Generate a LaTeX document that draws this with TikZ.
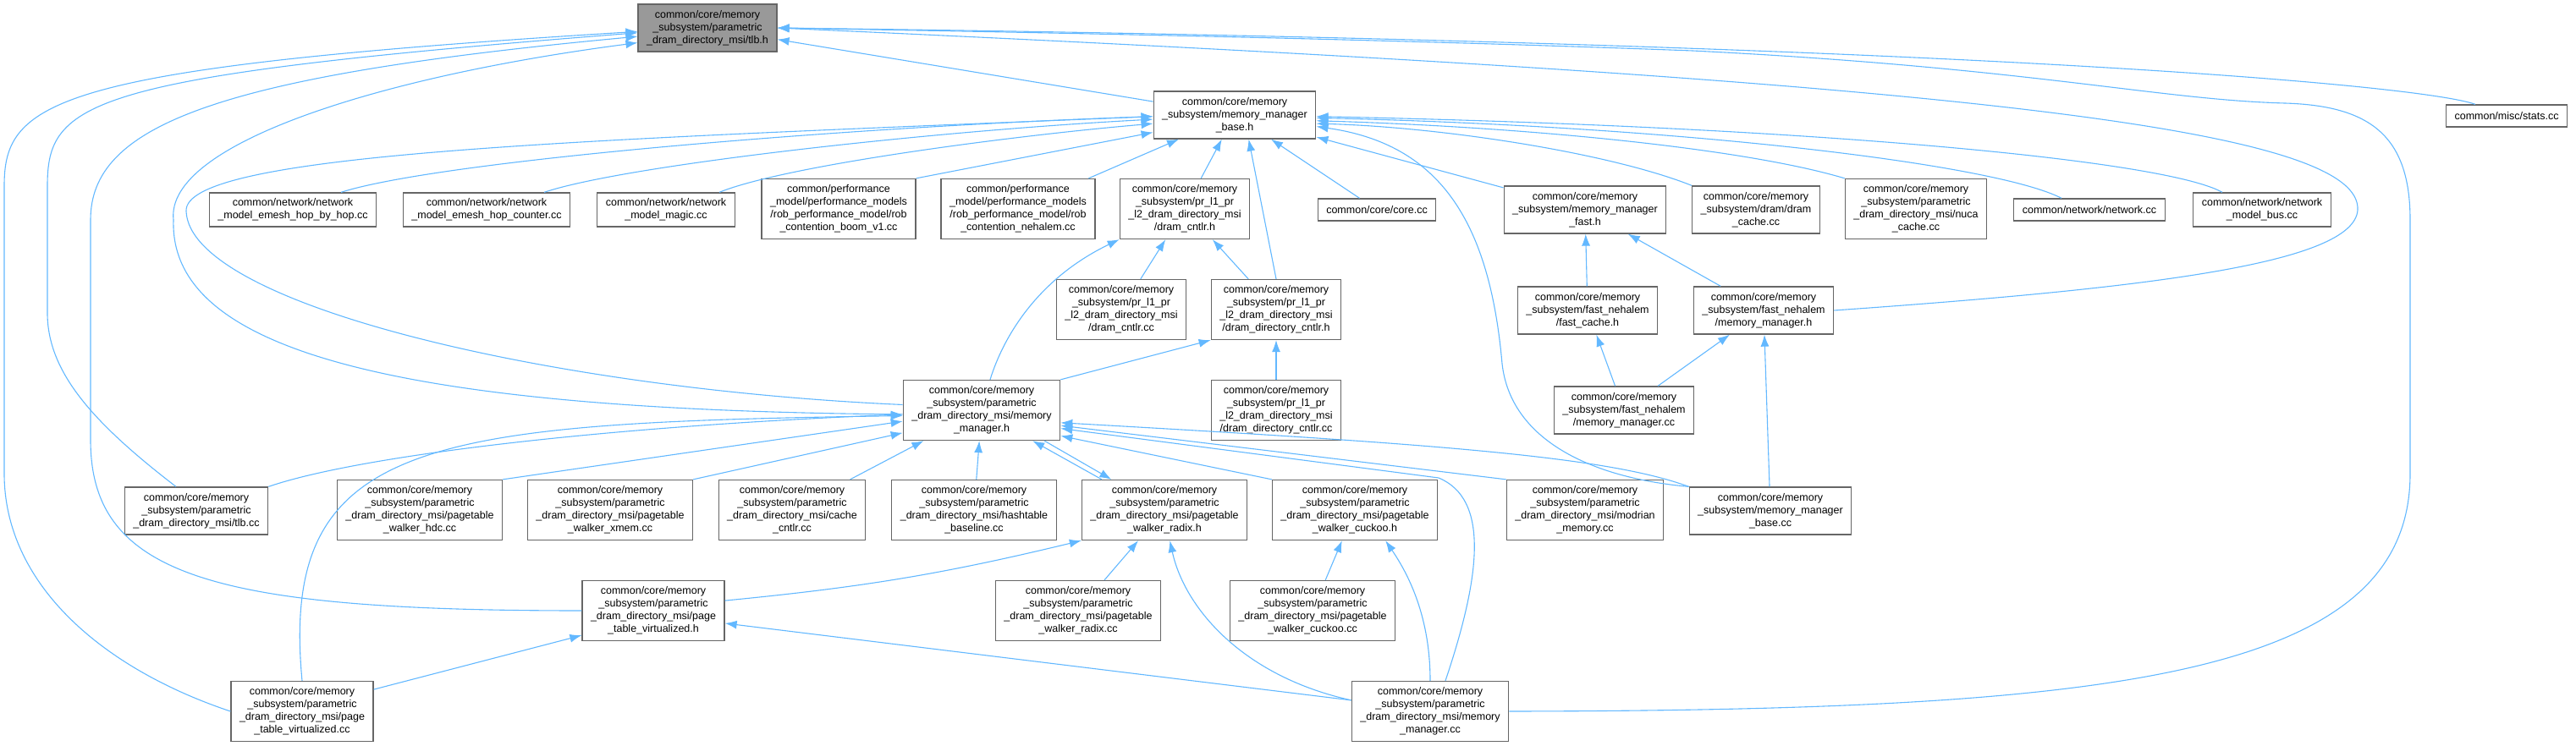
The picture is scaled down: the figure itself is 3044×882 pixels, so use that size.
\documentclass[tikz,border=0pt]{standalone}
\usepackage{fontspec}
\setmainfont{Liberation Sans}
\usepackage{tikz}
\usetikzlibrary{arrows.meta}
\definecolor{edgeblue}{HTML}{63B8FF}
\definecolor{boxline}{HTML}{666666}
\definecolor{boxgray}{HTML}{999999}

\begin{document}
\begin{tikzpicture}[x=1pt,y=-1pt,
    filebox/.style={draw=boxline,line width=1.3pt,fill=white,align=center,inner xsep=10pt,inner ysep=2pt,
        minimum height=#1,font=\fontsize{12.5}{15}\selectfont},
    dep/.style={->,>={Latex[length=14pt,width=10pt]},draw=edgeblue,line width=1.1pt}]
            \useasboundingbox (0,0) rectangle (3044,882);
            \node[filebox=56,fill=boxgray] (tlbh) at (836,33) {common/core/memory\\\_subsystem/parametric\\\_dram\_directory\_msi/tlb.h};
            \node[filebox=56] (mmbaseh) at (1459,136) {common/core/memory\\\_subsystem/memory\_manager\\\_base.h};
            \node[filebox=26] (stats) at (2962,137) {common/misc/stats.cc};
            \node[filebox=40] (hopbyhop) at (346,248) {common/network/network\\\_model\_emesh\_hop\_by\_hop.cc};
            \node[filebox=40] (hopcounter) at (575,248) {common/network/network\\\_model\_emesh\_hop\_counter.cc};
            \node[filebox=40] (magic) at (787,248) {common/network/network\\\_model\_magic.cc};
            \node[filebox=71] (boom) at (991,247) {common/performance\\\_model/performance\_models\\/rob\_performance\_model/rob\\\_contention\_boom\_v1.cc};
            \node[filebox=71] (nehalem) at (1203,247) {common/performance\\\_model/performance\_models\\/rob\_performance\_model/rob\\\_contention\_nehalem.cc};
            \node[filebox=71] (dramcntlrh) at (1400,247) {common/core/memory\\\_subsystem/pr\_l1\_pr\\\_l2\_dram\_directory\_msi\\/dram\_cntlr.h};
            \node[filebox=26] (corecc) at (1627,248) {common/core/core.cc};
            \node[filebox=56] (mmfasth) at (1873,248) {common/core/memory\\\_subsystem/memory\_manager\\\_fast.h};
            \node[filebox=56] (dramcache) at (2075,248) {common/core/memory\\\_subsystem/dram/dram\\\_cache.cc};
            \node[filebox=71] (nuca) at (2264,247) {common/core/memory\\\_subsystem/parametric\\\_dram\_directory\_msi/nuca\\\_cache.cc};
            \node[filebox=26] (networkcc) at (2469,248) {common/network/network.cc};
            \node[filebox=40] (bus) at (2673,248) {common/network/network\\\_model\_bus.cc};
            \node[filebox=71] (dramcntlrcc) at (1325,366) {common/core/memory\\\_subsystem/pr\_l1\_pr\\\_l2\_dram\_directory\_msi\\/dram\_cntlr.cc};
            \node[filebox=71] (dirctlrh) at (1508,366) {common/core/memory\\\_subsystem/pr\_l1\_pr\\\_l2\_dram\_directory\_msi\\/dram\_directory\_cntlr.h};
            \node[filebox=56] (fastcache) at (1876,367) {common/core/memory\\\_subsystem/fast\_nehalem\\/fast\_cache.h};
            \node[filebox=56] (fnmmh) at (2084,367) {common/core/memory\\\_subsystem/fast\_nehalem\\/memory\_manager.h};
            \node[filebox=71] (mmh) at (1160,485) {common/core/memory\\\_subsystem/parametric\\\_dram\_directory\_msi/memory\\\_manager.h};
            \node[filebox=71] (dirctlrcc) at (1508,485) {common/core/memory\\\_subsystem/pr\_l1\_pr\\\_l2\_dram\_directory\_msi\\/dram\_directory\_cntlr.cc};
            \node[filebox=56] (fnmmcc) at (1919,485) {common/core/memory\\\_subsystem/fast\_nehalem\\/memory\_manager.cc};
            \node[filebox=56] (tlbcc) at (232,604) {common/core/memory\\\_subsystem/parametric\\\_dram\_directory\_msi/tlb.cc};
            \node[filebox=71] (hdc) at (496,603) {common/core/memory\\\_subsystem/parametric\\\_dram\_directory\_msi/pagetable\\\_walker\_hdc.cc};
            \node[filebox=71] (xmem) at (721,603) {common/core/memory\\\_subsystem/parametric\\\_dram\_directory\_msi/pagetable\\\_walker\_xmem.cc};
            \node[filebox=71] (cachecntlr) at (936,603) {common/core/memory\\\_subsystem/parametric\\\_dram\_directory\_msi/cache\\\_cntlr.cc};
            \node[filebox=71] (hashtable) at (1151,603) {common/core/memory\\\_subsystem/parametric\\\_dram\_directory\_msi/hashtable\\\_baseline.cc};
            \node[filebox=71] (radixh) at (1376,603) {common/core/memory\\\_subsystem/parametric\\\_dram\_directory\_msi/pagetable\\\_walker\_radix.h};
            \node[filebox=71] (cuckooh) at (1601,603) {common/core/memory\\\_subsystem/parametric\\\_dram\_directory\_msi/pagetable\\\_walker\_cuckoo.h};
            \node[filebox=71] (modrian) at (1873,603) {common/core/memory\\\_subsystem/parametric\\\_dram\_directory\_msi/modrian\\\_memory.cc};
            \node[filebox=56] (mmbasecc) at (2092,604) {common/core/memory\\\_subsystem/memory\_manager\\\_base.cc};
            \node[filebox=71] (ptvh) at (772,722) {common/core/memory\\\_subsystem/parametric\\\_dram\_directory\_msi/page\\\_table\_virtualized.h};
            \node[filebox=71] (radixcc) at (1274,722) {common/core/memory\\\_subsystem/parametric\\\_dram\_directory\_msi/pagetable\\\_walker\_radix.cc};
            \node[filebox=71] (cuckoocc) at (1551,722) {common/core/memory\\\_subsystem/parametric\\\_dram\_directory\_msi/pagetable\\\_walker\_cuckoo.cc};
            \node[filebox=71] (ptvcc) at (357,841) {common/core/memory\\\_subsystem/parametric\\\_dram\_directory\_msi/page\\\_table\_virtualized.cc};
            \node[filebox=71] (mmcc) at (1690,841) {common/core/memory\\\_subsystem/parametric\\\_dram\_directory\_msi/memory\\\_manager.cc};
            % includes of tlb.h
            \draw[dep] (ptvcc.west) .. controls (120,790) and (5,690) .. (5,560) -- (5,220) .. controls (5,120) and (60,80) .. (tlbh.183);
            \draw[dep] (tlbcc.130) .. controls (110,500) and (56,440) .. (56,370) -- (56,220) .. controls (56,120) and (100,90) .. (tlbh.184);
            \draw[dep] (ptvh.west) .. controls (250,722) and (107,680) .. (107,520) -- (107,260) .. controls (107,150) and (250,90) .. (tlbh.187);
            \draw[dep] (mmh.183) .. controls (450,485) and (200,410) .. (205,260) .. controls (195,170) and (450,90) .. (tlbh.192);
            \draw[dep] (mmbaseh) -- (tlbh);
            \draw[dep] ([xshift=-37pt]stats.north) .. controls (2860,100) and (2300,50) .. (tlbh.east);
            \draw[dep] (mmcc.east) .. controls (2500,840) and (2848,800) .. (2848,560) -- (2848,260) .. controls (2848,160) and (2800,125) .. (2700,122) .. controls (2550,118) and (2400,80) .. (2000,60) .. controls (1600,45) and (1200,38) .. (tlbh.east);
            \draw[dep] (fnmmh.east) .. controls (2550,340) and (2790,310) .. (2786,245) .. controls (2780,150) and (2300,95) .. (tlbh.east);
            % includes of memory_manager_base.h
            \draw[dep] ([xshift=57pt]hopbyhop.north) .. controls (520,190) and (1000,150) .. (mmbaseh.181);
            \draw[dep] ([xshift=68pt]hopcounter.north) .. controls (740,195) and (1100,155) .. (mmbaseh.183);
            \draw[dep] ([xshift=63pt]magic.north) .. controls (930,195) and (1200,160) .. (mmbaseh.186);
            \draw[dep] (boom.north east) -- (mmbaseh.192);
            \draw[dep] (mmh.176) .. controls (650,460) and (225,360) .. (220,250) .. controls (215,180) and (700,165) .. (mmbaseh.181);
            \draw[dep] (nehalem) -- (mmbaseh);
            \draw[dep] (dramcntlrh) -- (mmbaseh);
            \draw[dep] (dirctlrh.north) -- (mmbaseh.-60);
            \draw[dep] (corecc) -- (mmbaseh);
            \draw[dep] (mmfasth) -- (mmbaseh);
            \draw[dep] (dramcache.north west) .. controls (1900,180) and (1700,150) .. (mmbaseh.-6);
            \draw[dep] (nuca.north west) .. controls (2060,175) and (1800,150) .. (mmbaseh.-4);
            \draw[dep] ([xshift=-33pt]networkcc.north) .. controls (2360,195) and (2000,150) .. (mmbaseh.-2);
            \draw[dep] ([xshift=-47pt]bus.north) .. controls (2560,190) and (2150,150) .. (mmbaseh.-1);
            \draw[dep] (mmbasecc.north west) .. controls (1880,565) and (1785,520) .. (1775,430) .. controls (1760,260) and (1700,170) .. (mmbaseh.-8);
            % includes of memory_manager.h
            \draw[dep] (tlbcc.north east) .. controls (420,540) and (700,505) .. (mmh.183);
            \draw[dep] (ptvcc.north) .. controls (330,520) and (500,500) .. (mmh.184);
            \draw[dep] (hdc.north east) -- (mmh.188);
            \draw[dep] (xmem.north east) -- (mmh.196);
            \draw[dep] (cachecntlr) -- (mmh);
            \draw[dep] (hashtable) -- (mmh);
            \draw[dep] (radixh.154) -- (mmh.-31);
            \draw[dep] (mmh.-26) -- (radixh.150);
            \draw[dep] (cuckooh.north west) -- (mmh.-18);
            \draw[dep] (modrian.north west) -- (mmh.-11);
            \draw[dep] (mmbasecc.north west) .. controls (1900,540) and (1700,525) .. (mmh.-9);
            \draw[dep] ([xshift=18pt]mmcc.north) .. controls (1750,680) and (1760,590) .. (1700,565) -- (mmh.-13);
            \draw[dep] ([xshift=10pt]mmh.north) .. controls (1185,400) and (1225,330) .. (dramcntlrh.south west);
            \draw[dep] (mmh.north east) -- (dirctlrh.south west);
            % the rest
            \draw[dep] (ptvh.8) to[bend right=4] (radixh.south west);
            \draw[dep] (radixcc) -- (radixh);
            \draw[dep] (mmcc.172) .. controls (1470,800) and (1400,720) .. (radixh.-80);
            \draw[dep] (cuckoocc) -- (cuckooh);
            \draw[dep] (mmcc.north) .. controls (1690,730) and (1665,680) .. (cuckooh.-45);
            \draw[dep] (mmcc.172) -- (ptvh.-10);
            \draw[dep] (ptvcc.17) -- (ptvh.199);
            \draw[dep] (dramcntlrcc) -- (dramcntlrh);
            \draw[dep] (dirctlrh) -- (dramcntlrh);
            \draw[dep] (dirctlrcc) -- (dirctlrh);
            \draw[dep] (fastcache) -- (mmfasth);
            \draw[dep] (fnmmh) -- (mmfasth);
            \draw[dep] (fnmmcc) -- (fastcache);
            \draw[dep] (fnmmcc) -- (fnmmh);
            \draw[dep] (mmbasecc) -- (fnmmh);
        \end{tikzpicture}
\end{document}
